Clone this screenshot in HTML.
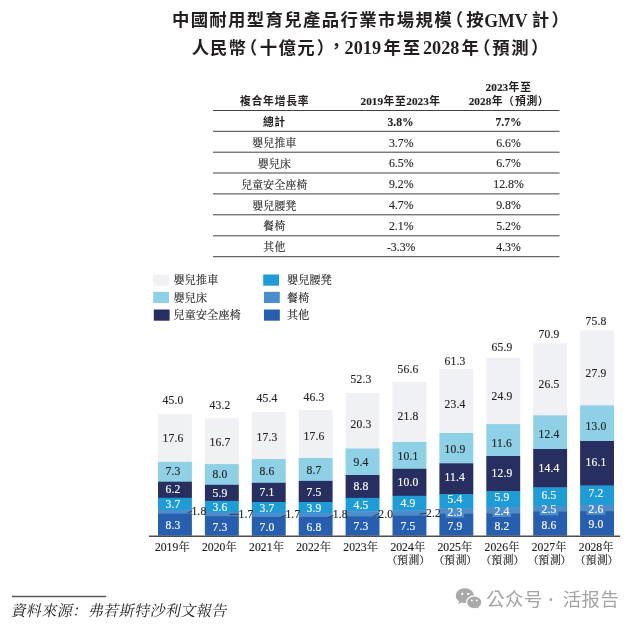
<!DOCTYPE html>
<html lang="zh-Hant"><head><meta charset="utf-8"><title>中國耐用型育兒產品行業市場規模</title>
<style>
html,body{margin:0;padding:0;background:#fff}
body{width:640px;height:626px;overflow:hidden;font-family:"Liberation Serif",serif}
svg{display:block;will-change:transform}
svg text{font-family:"Liberation Serif",serif;white-space:pre}
svg defs path{vector-effect:non-scaling-stroke}
svg text.ss{font-family:"Liberation Sans",sans-serif}
svg text.cs{font-family:"Liberation Sans","Noto Sans CJK TC",sans-serif;font-weight:bold}
svg text.cf{font-family:"Liberation Serif","Noto Serif CJK SC",serif}
svg text.cw{font-family:"Liberation Sans","Noto Sans CJK SC",sans-serif}
</style></head><body>
<svg width="640" height="626" viewBox="0 0 640 626">
<g fill="#231f20"><text class="cs" x="171.9" y="26.3" font-size="17.4" letter-spacing="1.35">中國耐用型育兒產品行業市場規模</text></g>
<g fill="#231f20"><text class="cs" x="445.77" y="26.3" font-size="17.4">（</text></g>
<g fill="#231f20"><text class="cs" x="466.37" y="26.3" font-size="17.4">按</text></g>
<g fill="#231f20"><text x="484.3" y="27" font-size="19.6" font-weight="bold" textLength="43.4" lengthAdjust="spacingAndGlyphs">GMV</text></g>
<g fill="#231f20"><text class="cs" x="531.63" y="26.3" font-size="17.4">計</text></g>
<g fill="#231f20"><text class="cs" x="551.43" y="26.3" font-size="17.4">）</text></g>
<g fill="#231f20"><text class="cs" x="191.84" y="53.8" font-size="17.4" letter-spacing="0.9">人民幣</text></g>
<g fill="#231f20"><text class="cs" x="239.87" y="53.8" font-size="17.4">（</text></g>
<g fill="#231f20"><text class="cs" x="259.63" y="53.8" font-size="17.4" letter-spacing="1.45">十億元</text></g>
<g fill="#231f20"><text class="cs" x="316.83" y="53.8" font-size="17.4">）</text></g>
<g fill="#231f20"><text class="cs" x="327.67" y="52.3" font-size="17.4">，</text></g>
<g fill="#231f20"><text x="344.6" y="53.8" font-size="18.2" font-weight="bold">2019</text></g>
<g fill="#231f20"><text class="cs" x="383.49" y="53.8" font-size="17.4" letter-spacing="1.9">年至</text></g>
<g fill="#231f20"><text x="423" y="53.8" font-size="18.2" font-weight="bold">2028</text></g>
<g fill="#231f20"><text class="cs" x="461.59" y="53.8" font-size="17.4">年</text></g>
<g fill="#231f20"><text class="cs" x="472.97" y="53.8" font-size="17.4">（</text></g>
<g fill="#231f20"><text class="cs" x="492.3" y="53.8" font-size="17.4" letter-spacing="1.6">預測</text></g>
<g fill="#231f20"><text class="cs" x="531.03" y="53.8" font-size="17.4">）</text></g>
<line x1="213" y1="110.5" x2="559.5" y2="110.5" stroke="#414042" stroke-width="1"/>
<line x1="213" y1="131.3" x2="559.5" y2="131.3" stroke="#414042" stroke-width="1"/>
<line x1="213" y1="152.2" x2="559.5" y2="152.2" stroke="#414042" stroke-width="1"/>
<line x1="213" y1="173" x2="559.5" y2="173" stroke="#414042" stroke-width="1"/>
<line x1="213" y1="193.9" x2="559.5" y2="193.9" stroke="#414042" stroke-width="1"/>
<line x1="213" y1="214.8" x2="559.5" y2="214.8" stroke="#414042" stroke-width="1"/>
<line x1="213" y1="235.8" x2="559.5" y2="235.8" stroke="#414042" stroke-width="1"/>
<line x1="213" y1="256.700" x2="559.5" y2="256.700" stroke="#414042" stroke-width="1"/>
<g fill="#231f20"><text class="cs" x="239.9" y="104.8" font-size="10.8" letter-spacing="0.8">複合年增長率</text></g>
<g fill="#231f20"><text x="360.5" y="105.4" font-size="11.3" font-weight="bold" stroke="#231f20" stroke-width="0.14">2019</text><text class="cs" x="383.5" y="105.4" font-size="10.8" letter-spacing="0.8">年至</text><text x="406.3" y="105.4" font-size="11.3" font-weight="bold" stroke="#231f20" stroke-width="0.14">2023</text><text class="cs" x="429.3" y="105.4" font-size="10.8">年</text></g>
<g fill="#231f20"><text x="485.6" y="90.7" font-size="11.3" font-weight="bold" stroke="#231f20" stroke-width="0.14">2023</text><text class="cs" x="508.6" y="90.7" font-size="10.8" letter-spacing="0.8">年至</text></g>
<g fill="#231f20"><text x="468.7" y="105" font-size="11.3" font-weight="bold" stroke="#231f20" stroke-width="0.14">2028</text><text class="cs" x="491.7" y="105" font-size="10.8">年</text><text class="cs" x="502.9" y="105" font-size="10.8">（</text><text class="cs" x="514.9" y="105" font-size="10.8" letter-spacing="0.8">預測</text><text class="cs" x="537.7" y="105" font-size="10.8">）</text></g>
<g fill="#231f20"><text class="cs" x="263.05" y="126.2" font-size="10.8" letter-spacing="0.3">總計</text></g>
<g fill="#231f20" stroke="#231f20" stroke-width="0.14"><text x="387.45" y="125.8" font-size="11.6" font-weight="bold">3.8%</text></g>
<g fill="#231f20" stroke="#231f20" stroke-width="0.14"><text x="495.45" y="125.8" font-size="11.6" font-weight="bold">7.7%</text></g>
<g fill="#231f20" stroke="#231f20" stroke-width="0.14"><text class="cf" x="252.25" y="146.9" font-size="10.8" letter-spacing="0.3">嬰兒推車</text></g>
<g fill="#231f20" stroke="#231f20" stroke-width="0.14"><text x="388.91" y="146.5" font-size="11.8">3.7%</text></g>
<g fill="#231f20" stroke="#231f20" stroke-width="0.14"><text x="496.21" y="146.5" font-size="11.8">6.6%</text></g>
<g fill="#231f20" stroke="#231f20" stroke-width="0.14"><text class="cf" x="257.8" y="167.8" font-size="10.8" letter-spacing="0.3">嬰兒床</text></g>
<g fill="#231f20" stroke="#231f20" stroke-width="0.14"><text x="388.91" y="167.4" font-size="11.8">6.5%</text></g>
<g fill="#231f20" stroke="#231f20" stroke-width="0.14"><text x="496.21" y="167.4" font-size="11.8">6.7%</text></g>
<g fill="#231f20" stroke="#231f20" stroke-width="0.14"><text class="cf" x="241.15" y="188.6" font-size="10.8" letter-spacing="0.3">兒童安全座椅</text></g>
<g fill="#231f20" stroke="#231f20" stroke-width="0.14"><text x="388.91" y="188.2" font-size="11.8">9.2%</text></g>
<g fill="#231f20" stroke="#231f20" stroke-width="0.14"><text x="493.26" y="188.2" font-size="11.8">12.8%</text></g>
<g fill="#231f20" stroke="#231f20" stroke-width="0.14"><text class="cf" x="252.25" y="209.5" font-size="10.8" letter-spacing="0.3">嬰兒腰凳</text></g>
<g fill="#231f20" stroke="#231f20" stroke-width="0.14"><text x="388.91" y="209.1" font-size="11.8">4.7%</text></g>
<g fill="#231f20" stroke="#231f20" stroke-width="0.14"><text x="496.21" y="209.1" font-size="11.8">9.8%</text></g>
<g fill="#231f20" stroke="#231f20" stroke-width="0.14"><text class="cf" x="263.35" y="230.4" font-size="10.8" letter-spacing="0.3">餐椅</text></g>
<g fill="#231f20" stroke="#231f20" stroke-width="0.14"><text x="388.91" y="230" font-size="11.8">2.1%</text></g>
<g fill="#231f20" stroke="#231f20" stroke-width="0.14"><text x="496.21" y="230" font-size="11.8">5.2%</text></g>
<g fill="#231f20" stroke="#231f20" stroke-width="0.14"><text class="cf" x="263.35" y="251.4" font-size="10.8" letter-spacing="0.3">其他</text></g>
<g fill="#231f20" stroke="#231f20" stroke-width="0.14"><text x="386.95" y="251" font-size="11.8">-3.3%</text></g>
<g fill="#231f20" stroke="#231f20" stroke-width="0.14"><text x="496.21" y="251" font-size="11.8">4.3%</text></g>
<rect x="153.2" y="274.5" width="15.8" height="11.2" fill="#f0f1f5"/>
<g fill="#231f20" stroke="#231f20" stroke-width="0.14"><text class="cf" x="173.62" y="284.4" font-size="11" letter-spacing="0.25">嬰兒推車</text></g>
<rect x="153.2" y="291.8" width="15.8" height="11.2" fill="#8ed0e6"/>
<g fill="#231f20" stroke="#231f20" stroke-width="0.14"><text class="cf" x="173.62" y="301.7" font-size="11" letter-spacing="0.25">嬰兒床</text></g>
<rect x="153.8" y="309.5" width="15.8" height="11.2" fill="#272f61"/>
<g fill="#231f20" stroke="#231f20" stroke-width="0.14"><text class="cf" x="173.62" y="319.4" font-size="11" letter-spacing="0.25">兒童安全座椅</text></g>
<rect x="263.2" y="274.5" width="15.8" height="11.2" fill="#1e9cd8"/>
<g fill="#231f20" stroke="#231f20" stroke-width="0.14"><text class="cf" x="287.12" y="284.4" font-size="11" letter-spacing="0.25">嬰兒腰凳</text></g>
<rect x="264" y="291.8" width="15.8" height="11.2" fill="#4c8ecb"/>
<g fill="#231f20" stroke="#231f20" stroke-width="0.14"><text class="cf" x="287.12" y="301.7" font-size="11" letter-spacing="0.25">餐椅</text></g>
<rect x="264" y="309.5" width="15.8" height="11.2" fill="#265eb0"/>
<g fill="#231f20" stroke="#231f20" stroke-width="0.14"><text class="cf" x="287.12" y="319.4" font-size="11" letter-spacing="0.25">其他</text></g>
<rect x="158" y="414.1" width="33.9" height="48.2" fill="#f0f1f5"/>
<rect x="158" y="461.9" width="33.9" height="20.2" fill="#8ed0e6"/>
<rect x="158" y="481.7" width="33.9" height="16.5" fill="#272f61"/>
<rect x="158" y="497.8" width="33.9" height="12.2" fill="#1e9cd8"/>
<rect x="158" y="509.6" width="33.9" height="4.2" fill="#4c8ecb"/>
<rect x="158" y="513.4" width="33.9" height="22.3" fill="#265eb0"/>
<rect x="204.9" y="418.4" width="33.9" height="46.1" fill="#f0f1f5"/>
<rect x="204.9" y="464.1" width="33.9" height="21.1" fill="#8ed0e6"/>
<rect x="204.9" y="484.8" width="33.9" height="16.5" fill="#272f61"/>
<rect x="204.9" y="500.9" width="33.9" height="11.5" fill="#1e9cd8"/>
<rect x="204.9" y="512" width="33.9" height="4.5" fill="#4c8ecb"/>
<rect x="204.9" y="516.1" width="33.9" height="19.6" fill="#265eb0"/>
<rect x="251.8" y="411.9" width="33.9" height="47.6" fill="#f0f1f5"/>
<rect x="251.8" y="459.1" width="33.9" height="24.1" fill="#8ed0e6"/>
<rect x="251.8" y="482.8" width="33.9" height="19.6" fill="#272f61"/>
<rect x="251.8" y="502" width="33.9" height="11.2" fill="#1e9cd8"/>
<rect x="251.8" y="512.8" width="33.9" height="4.5" fill="#4c8ecb"/>
<rect x="251.8" y="516.9" width="33.9" height="18.8" fill="#265eb0"/>
<rect x="298.7" y="410" width="33.9" height="48.4" fill="#f0f1f5"/>
<rect x="298.7" y="458" width="33.9" height="23.3" fill="#8ed0e6"/>
<rect x="298.7" y="480.9" width="33.9" height="21.5" fill="#272f61"/>
<rect x="298.7" y="502" width="33.9" height="11.2" fill="#1e9cd8"/>
<rect x="298.7" y="512.8" width="33.9" height="4.5" fill="#4c8ecb"/>
<rect x="298.7" y="516.9" width="33.9" height="18.8" fill="#265eb0"/>
<rect x="345.6" y="393" width="33.9" height="55.9" fill="#f0f1f5"/>
<rect x="345.6" y="448.5" width="33.9" height="26.9" fill="#8ed0e6"/>
<rect x="345.6" y="475" width="33.9" height="23.3" fill="#272f61"/>
<rect x="345.6" y="497.9" width="33.9" height="13.8" fill="#1e9cd8"/>
<rect x="345.6" y="511.3" width="33.9" height="5.3" fill="#4c8ecb"/>
<rect x="345.6" y="516.2" width="33.9" height="19.5" fill="#265eb0"/>
<rect x="392.5" y="382" width="33.9" height="60.4" fill="#f0f1f5"/>
<rect x="392.5" y="442" width="33.9" height="27.2" fill="#8ed0e6"/>
<rect x="392.5" y="468.8" width="33.9" height="27.4" fill="#272f61"/>
<rect x="392.5" y="495.8" width="33.9" height="15" fill="#1e9cd8"/>
<rect x="392.5" y="510.4" width="33.9" height="5.4" fill="#4c8ecb"/>
<rect x="392.5" y="515.4" width="33.9" height="20.3" fill="#265eb0"/>
<rect x="439.4" y="369.1" width="33.9" height="64.3" fill="#f0f1f5"/>
<rect x="439.4" y="433" width="33.9" height="30.7" fill="#8ed0e6"/>
<rect x="439.4" y="463.3" width="33.9" height="31.1" fill="#272f61"/>
<rect x="439.4" y="494" width="33.9" height="14.6" fill="#1e9cd8"/>
<rect x="439.4" y="508.2" width="33.9" height="5.9" fill="#4c8ecb"/>
<rect x="439.4" y="513.7" width="33.9" height="22" fill="#265eb0"/>
<rect x="486.3" y="357.7" width="33.9" height="66.8" fill="#f0f1f5"/>
<rect x="486.3" y="424.1" width="33.9" height="32.3" fill="#8ed0e6"/>
<rect x="486.3" y="456" width="33.9" height="35.5" fill="#272f61"/>
<rect x="486.3" y="491.1" width="33.9" height="16.4" fill="#1e9cd8"/>
<rect x="486.3" y="507.1" width="33.9" height="6.6" fill="#4c8ecb"/>
<rect x="486.3" y="513.3" width="33.9" height="22.4" fill="#265eb0"/>
<rect x="533.2" y="343.4" width="33.9" height="72.3" fill="#f0f1f5"/>
<rect x="533.2" y="415.3" width="33.9" height="34.1" fill="#8ed0e6"/>
<rect x="533.2" y="449" width="33.9" height="38.8" fill="#272f61"/>
<rect x="533.2" y="487.4" width="33.9" height="19" fill="#1e9cd8"/>
<rect x="533.2" y="506" width="33.9" height="6" fill="#4c8ecb"/>
<rect x="533.2" y="511.6" width="33.9" height="24.1" fill="#265eb0"/>
<rect x="580.1" y="330.4" width="33.9" height="75.4" fill="#f0f1f5"/>
<rect x="580.1" y="405.4" width="33.9" height="36" fill="#8ed0e6"/>
<rect x="580.1" y="441" width="33.9" height="44.9" fill="#272f61"/>
<rect x="580.1" y="485.5" width="33.9" height="19.5" fill="#1e9cd8"/>
<rect x="580.1" y="504.6" width="33.9" height="6.9" fill="#4c8ecb"/>
<rect x="580.1" y="511.1" width="33.9" height="24.6" fill="#265eb0"/>
<g fill="#231f20" stroke="#231f20" stroke-width="0.15"><text x="162.53" y="441.8" font-size="11.6" letter-spacing="0.15">17.6</text></g>
<g fill="#231f20" stroke="#231f20" stroke-width="0.15"><text x="165.5" y="475.4" font-size="11.6" letter-spacing="0.15">7.3</text></g>
<g fill="#ffffff" stroke="#ffffff" stroke-width="0.15"><text x="165.5" y="493" font-size="11.6" letter-spacing="0.15">6.2</text></g>
<g fill="#ffffff" stroke="#ffffff" stroke-width="0.15"><text x="165.5" y="508.2" font-size="11.6" letter-spacing="0.15">3.7</text></g>
<line x1="187.7" y1="512.9" x2="192.3" y2="511" stroke="#231f20" stroke-width="0.75"/>
<g fill="#231f20" stroke="#231f20" stroke-width="0.15"><text x="191.4" y="515.2" font-size="11.6" letter-spacing="0.15">1.8</text></g>
<g fill="#ffffff" stroke="#ffffff" stroke-width="0.15"><text x="165.5" y="529" font-size="11.6" letter-spacing="0.15">8.3</text></g>
<g fill="#231f20" stroke="#231f20" stroke-width="0.15"><text x="162.53" y="403.5" font-size="11.6" letter-spacing="0.15">45.0</text></g>
<g fill="#231f20" stroke="#231f20" stroke-width="0.15"><text x="154.9" y="550.6" font-size="11.7">2019</text><text class="cf" x="178.7" y="550.6" font-size="11">年</text></g>
<g fill="#231f20" stroke="#231f20" stroke-width="0.15"><text x="209.53" y="445.7" font-size="11.6" letter-spacing="0.15">16.7</text></g>
<g fill="#231f20" stroke="#231f20" stroke-width="0.15"><text x="212.5" y="478.4" font-size="11.6" letter-spacing="0.15">8.0</text></g>
<g fill="#ffffff" stroke="#ffffff" stroke-width="0.15"><text x="212.5" y="496.8" font-size="11.6" letter-spacing="0.15">5.9</text></g>
<g fill="#ffffff" stroke="#ffffff" stroke-width="0.15"><text x="212.5" y="510.8" font-size="11.6" letter-spacing="0.15">3.6</text></g>
<line x1="229.8" y1="514.4" x2="239.3" y2="514.2" stroke="#231f20" stroke-width="0.75"/>
<g fill="#231f20" stroke="#231f20" stroke-width="0.15"><text x="238.5" y="518.1" font-size="11.6" letter-spacing="0.15">1.7</text></g>
<g fill="#ffffff" stroke="#ffffff" stroke-width="0.15"><text x="212.5" y="530.5" font-size="11.6" letter-spacing="0.15">7.3</text></g>
<g fill="#231f20" stroke="#231f20" stroke-width="0.15"><text x="209.53" y="408.65" font-size="11.6" letter-spacing="0.15">43.2</text></g>
<g fill="#231f20" stroke="#231f20" stroke-width="0.15"><text x="202" y="550.6" font-size="11.7">2020</text><text class="cf" x="225.8" y="550.6" font-size="11">年</text></g>
<g fill="#231f20" stroke="#231f20" stroke-width="0.15"><text x="256.52" y="440.9" font-size="11.6" letter-spacing="0.15">17.3</text></g>
<g fill="#231f20" stroke="#231f20" stroke-width="0.15"><text x="259.5" y="474.5" font-size="11.6" letter-spacing="0.15">8.6</text></g>
<g fill="#ffffff" stroke="#ffffff" stroke-width="0.15"><text x="259.5" y="495.7" font-size="11.6" letter-spacing="0.15">7.1</text></g>
<g fill="#ffffff" stroke="#ffffff" stroke-width="0.15"><text x="259.5" y="512.1" font-size="11.6" letter-spacing="0.15">3.7</text></g>
<line x1="281.2" y1="516.9" x2="286.2" y2="515.3" stroke="#231f20" stroke-width="0.75"/>
<g fill="#231f20" stroke="#231f20" stroke-width="0.15"><text x="285.4" y="518.3" font-size="11.6" letter-spacing="0.15">1.7</text></g>
<g fill="#ffffff" stroke="#ffffff" stroke-width="0.15"><text x="259.5" y="530.8" font-size="11.6" letter-spacing="0.15">7.0</text></g>
<g fill="#231f20" stroke="#231f20" stroke-width="0.15"><text x="256.52" y="402.3" font-size="11.6" letter-spacing="0.15">45.4</text></g>
<g fill="#231f20" stroke="#231f20" stroke-width="0.15"><text x="249.1" y="550.6" font-size="11.7">2021</text><text class="cf" x="272.9" y="550.6" font-size="11">年</text></g>
<g fill="#231f20" stroke="#231f20" stroke-width="0.15"><text x="303.52" y="439.8" font-size="11.6" letter-spacing="0.15">17.6</text></g>
<g fill="#231f20" stroke="#231f20" stroke-width="0.15"><text x="306.5" y="474.1" font-size="11.6" letter-spacing="0.15">8.7</text></g>
<g fill="#ffffff" stroke="#ffffff" stroke-width="0.15"><text x="306.5" y="495.7" font-size="11.6" letter-spacing="0.15">7.5</text></g>
<g fill="#ffffff" stroke="#ffffff" stroke-width="0.15"><text x="306.5" y="512.1" font-size="11.6" letter-spacing="0.15">3.9</text></g>
<line x1="328.6" y1="517.2" x2="333.5" y2="515.6" stroke="#231f20" stroke-width="0.75"/>
<g fill="#231f20" stroke="#231f20" stroke-width="0.15"><text x="332.7" y="518.3" font-size="11.6" letter-spacing="0.15">1.8</text></g>
<g fill="#ffffff" stroke="#ffffff" stroke-width="0.15"><text x="306.5" y="530.8" font-size="11.6" letter-spacing="0.15">6.8</text></g>
<g fill="#231f20" stroke="#231f20" stroke-width="0.15"><text x="303.52" y="400.7" font-size="11.6" letter-spacing="0.15">46.3</text></g>
<g fill="#231f20" stroke="#231f20" stroke-width="0.15"><text x="296.2" y="550.6" font-size="11.7">2022</text><text class="cf" x="320" y="550.6" font-size="11">年</text></g>
<g fill="#231f20" stroke="#231f20" stroke-width="0.15"><text x="350.52" y="427.9" font-size="11.6" letter-spacing="0.15">20.3</text></g>
<g fill="#231f20" stroke="#231f20" stroke-width="0.15"><text x="353.5" y="466.2" font-size="11.6" letter-spacing="0.15">9.4</text></g>
<g fill="#ffffff" stroke="#ffffff" stroke-width="0.15"><text x="353.5" y="489.9" font-size="11.6" letter-spacing="0.15">8.8</text></g>
<g fill="#ffffff" stroke="#ffffff" stroke-width="0.15"><text x="353.5" y="508.7" font-size="11.6" letter-spacing="0.15">4.5</text></g>
<line x1="373.6" y1="516.2" x2="379" y2="513.6" stroke="#231f20" stroke-width="0.75"/>
<g fill="#231f20" stroke="#231f20" stroke-width="0.15"><text x="378.3" y="518.1" font-size="11.6" letter-spacing="0.15">2.0</text></g>
<g fill="#ffffff" stroke="#ffffff" stroke-width="0.15"><text x="353.5" y="530.1" font-size="11.6" letter-spacing="0.15">7.3</text></g>
<g fill="#231f20" stroke="#231f20" stroke-width="0.15"><text x="350.52" y="383.3" font-size="11.6" letter-spacing="0.15">52.3</text></g>
<g fill="#231f20" stroke="#231f20" stroke-width="0.15"><text x="343.3" y="550.6" font-size="11.7">2023</text><text class="cf" x="367.1" y="550.6" font-size="11">年</text></g>
<g fill="#231f20" stroke="#231f20" stroke-width="0.15"><text x="397.52" y="419.7" font-size="11.6" letter-spacing="0.15">21.8</text></g>
<g fill="#231f20" stroke="#231f20" stroke-width="0.15"><text x="397.52" y="459.5" font-size="11.6" letter-spacing="0.15">10.1</text></g>
<g fill="#ffffff" stroke="#ffffff" stroke-width="0.15"><text x="397.52" y="485.9" font-size="11.6" letter-spacing="0.15">10.0</text></g>
<g fill="#ffffff" stroke="#ffffff" stroke-width="0.15"><text x="400.5" y="507.15" font-size="11.6" letter-spacing="0.15">4.9</text></g>
<line x1="419.7" y1="514.2" x2="426.8" y2="513.1" stroke="#231f20" stroke-width="0.75"/>
<g fill="#231f20" stroke="#231f20" stroke-width="0.15"><text x="426.1" y="517.1" font-size="11.6" letter-spacing="0.15">2.2</text></g>
<g fill="#ffffff" stroke="#ffffff" stroke-width="0.15"><text x="400.5" y="530.1" font-size="11.6" letter-spacing="0.15">7.5</text></g>
<g fill="#231f20" stroke="#231f20" stroke-width="0.15"><text x="397.52" y="373.3" font-size="11.6" letter-spacing="0.15">56.6</text></g>
<g fill="#231f20" stroke="#231f20" stroke-width="0.15"><text x="390.4" y="550.6" font-size="11.7">2024</text><text class="cf" x="414.2" y="550.6" font-size="11">年</text></g>
<g fill="#231f20" stroke="#231f20" stroke-width="0.15"><text class="cf" x="386.4" y="564.3" font-size="10.8">（</text><text class="cf" x="397" y="564.3" font-size="10.8" letter-spacing="0.8">預測</text><text class="cf" x="419.2" y="564.3" font-size="10.8">）</text></g>
<g fill="#231f20" stroke="#231f20" stroke-width="0.15"><text x="444.52" y="408.4" font-size="11.6" letter-spacing="0.15">23.4</text></g>
<g fill="#231f20" stroke="#231f20" stroke-width="0.15"><text x="444.52" y="452.7" font-size="11.6" letter-spacing="0.15">10.9</text></g>
<g fill="#ffffff" stroke="#ffffff" stroke-width="0.15"><text x="444.52" y="481.4" font-size="11.6" letter-spacing="0.15">11.4</text></g>
<g fill="#ffffff" stroke="#ffffff" stroke-width="0.15"><text x="447.5" y="503" font-size="11.6" letter-spacing="0.15">5.4</text></g>
<rect x="445.57" y="508.2" width="18.6" height="9.4" fill="#4c8ecb"/>
<g fill="#ffffff" stroke="#ffffff" stroke-width="0.15"><text x="447.5" y="515.6" font-size="11.6" letter-spacing="0.15">2.3</text></g>
<g fill="#ffffff" stroke="#ffffff" stroke-width="0.15"><text x="447.5" y="529.7" font-size="11.6" letter-spacing="0.15">7.9</text></g>
<g fill="#231f20" stroke="#231f20" stroke-width="0.15"><text x="444.52" y="364.8" font-size="11.6" letter-spacing="0.15">61.3</text></g>
<g fill="#231f20" stroke="#231f20" stroke-width="0.15"><text x="437.5" y="550.6" font-size="11.7">2025</text><text class="cf" x="461.3" y="550.6" font-size="11">年</text></g>
<g fill="#231f20" stroke="#231f20" stroke-width="0.15"><text class="cf" x="433.5" y="564.3" font-size="10.8">（</text><text class="cf" x="444.1" y="564.3" font-size="10.8" letter-spacing="0.8">預測</text><text class="cf" x="466.3" y="564.3" font-size="10.8">）</text></g>
<g fill="#231f20" stroke="#231f20" stroke-width="0.15"><text x="491.52" y="399.7" font-size="11.6" letter-spacing="0.15">24.9</text></g>
<g fill="#231f20" stroke="#231f20" stroke-width="0.15"><text x="491.52" y="446.9" font-size="11.6" letter-spacing="0.15">11.6</text></g>
<g fill="#ffffff" stroke="#ffffff" stroke-width="0.15"><text x="491.52" y="476.9" font-size="11.6" letter-spacing="0.15">12.9</text></g>
<g fill="#ffffff" stroke="#ffffff" stroke-width="0.15"><text x="494.5" y="501.4" font-size="11.6" letter-spacing="0.15">5.9</text></g>
<rect x="492.57" y="507.1" width="18.6" height="9.9" fill="#4c8ecb"/>
<g fill="#ffffff" stroke="#ffffff" stroke-width="0.15"><text x="494.5" y="515" font-size="11.6" letter-spacing="0.15">2.4</text></g>
<g fill="#ffffff" stroke="#ffffff" stroke-width="0.15"><text x="494.5" y="529.7" font-size="11.6" letter-spacing="0.15">8.2</text></g>
<g fill="#231f20" stroke="#231f20" stroke-width="0.15"><text x="491.52" y="351.3" font-size="11.6" letter-spacing="0.15">65.9</text></g>
<g fill="#231f20" stroke="#231f20" stroke-width="0.15"><text x="484.6" y="550.6" font-size="11.7">2026</text><text class="cf" x="508.4" y="550.6" font-size="11">年</text></g>
<g fill="#231f20" stroke="#231f20" stroke-width="0.15"><text class="cf" x="480.6" y="564.3" font-size="10.8">（</text><text class="cf" x="491.2" y="564.3" font-size="10.8" letter-spacing="0.8">預測</text><text class="cf" x="513.4" y="564.3" font-size="10.8">）</text></g>
<g fill="#231f20" stroke="#231f20" stroke-width="0.15"><text x="538.52" y="387.6" font-size="11.6" letter-spacing="0.15">26.5</text></g>
<g fill="#231f20" stroke="#231f20" stroke-width="0.15"><text x="538.52" y="437.9" font-size="11.6" letter-spacing="0.15">12.4</text></g>
<g fill="#ffffff" stroke="#ffffff" stroke-width="0.15"><text x="538.52" y="471.6" font-size="11.6" letter-spacing="0.15">14.4</text></g>
<g fill="#ffffff" stroke="#ffffff" stroke-width="0.15"><text x="541.5" y="498.8" font-size="11.6" letter-spacing="0.15">6.5</text></g>
<rect x="539.58" y="506" width="18.6" height="9.4" fill="#4c8ecb"/>
<g fill="#ffffff" stroke="#ffffff" stroke-width="0.15"><text x="541.5" y="513.4" font-size="11.6" letter-spacing="0.15">2.5</text></g>
<g fill="#ffffff" stroke="#ffffff" stroke-width="0.15"><text x="541.5" y="528.7" font-size="11.6" letter-spacing="0.15">8.6</text></g>
<g fill="#231f20" stroke="#231f20" stroke-width="0.15"><text x="538.52" y="338" font-size="11.6" letter-spacing="0.15">70.9</text></g>
<g fill="#231f20" stroke="#231f20" stroke-width="0.15"><text x="531.7" y="550.6" font-size="11.7">2027</text><text class="cf" x="555.5" y="550.6" font-size="11">年</text></g>
<g fill="#231f20" stroke="#231f20" stroke-width="0.15"><text class="cf" x="527.7" y="564.3" font-size="10.8">（</text><text class="cf" x="538.3" y="564.3" font-size="10.8" letter-spacing="0.8">預測</text><text class="cf" x="560.5" y="564.3" font-size="10.8">）</text></g>
<g fill="#231f20" stroke="#231f20" stroke-width="0.15"><text x="585.52" y="376.9" font-size="11.6" letter-spacing="0.15">27.9</text></g>
<g fill="#231f20" stroke="#231f20" stroke-width="0.15"><text x="585.52" y="429.6" font-size="11.6" letter-spacing="0.15">13.0</text></g>
<g fill="#ffffff" stroke="#ffffff" stroke-width="0.15"><text x="585.52" y="465.9" font-size="11.6" letter-spacing="0.15">16.1</text></g>
<g fill="#ffffff" stroke="#ffffff" stroke-width="0.15"><text x="588.5" y="496.9" font-size="11.6" letter-spacing="0.15">7.2</text></g>
<rect x="586.58" y="504.6" width="18.6" height="10.2" fill="#4c8ecb"/>
<g fill="#ffffff" stroke="#ffffff" stroke-width="0.15"><text x="588.5" y="512.8" font-size="11.6" letter-spacing="0.15">2.6</text></g>
<g fill="#ffffff" stroke="#ffffff" stroke-width="0.15"><text x="588.5" y="528.1" font-size="11.6" letter-spacing="0.15">9.0</text></g>
<g fill="#231f20" stroke="#231f20" stroke-width="0.15"><text x="585.52" y="325.3" font-size="11.6" letter-spacing="0.15">75.8</text></g>
<g fill="#231f20" stroke="#231f20" stroke-width="0.15"><text x="578.8" y="550.6" font-size="11.7">2028</text><text class="cf" x="602.6" y="550.6" font-size="11">年</text></g>
<g fill="#231f20" stroke="#231f20" stroke-width="0.15"><text class="cf" x="574.8" y="564.3" font-size="10.8">（</text><text class="cf" x="585.4" y="564.3" font-size="10.8" letter-spacing="0.8">預測</text><text class="cf" x="607.6" y="564.3" font-size="10.8">）</text></g>
<line x1="149" y1="536.3" x2="620" y2="536.3" stroke="#4d4d4f" stroke-width="1.5"/>
<line x1="11.9" y1="596.45" x2="106.2" y2="596.45" stroke="#58595b" stroke-width="1.6"/>
<g fill="#231f20"><text class="cf" transform="translate(10.43 615.7) skewX(-12)" x="0" y="0" font-size="15.2" letter-spacing="0.25">資料來源</text><text class="cf" transform="translate(72.1 615.7) skewX(-12)" x="0" y="0" font-size="15.2">：</text><text class="cf" transform="translate(87.67 615.7) skewX(-12)" x="0" y="0" font-size="15.2" letter-spacing="0.25">弗若斯特沙利文報告</text></g>
<g aria-label="WeChat" transform="translate(468.8 598.9) scale(1.09) translate(-468.8 -598.7)"><path d="M465.2 588.9c-4.6 0-8.3 3-8.3 6.800 0 2.100 1.200 4 3 5.200l-.8 2.700 3-1.500c1 .3 2 .4 3.100.4 4.600 0 8.300-3 8.300-6.800s-3.700-6.800-8.300-6.800z" fill="#a9a9a9"/><path d="M473.800 596c-3.900 0-7 2.600-7 5.900s3.100 5.900 7 5.900c.9 0 1.700-.1 2.500-.4l2.500 1.300-.7-2.300c1.700-1.100 2.700-2.700 2.700-4.500 0-3.300-3.100-5.900-7-5.900z" fill="#a9a9a9" stroke="#fff" stroke-width="1.100"/><circle cx="462.800" cy="594.100" r="1.050" fill="#fff"/><circle cx="468.300" cy="594.100" r="1.050" fill="#fff"/><circle cx="471.600" cy="600.200" r=".85" fill="#fff"/><circle cx="476.100" cy="600.200" r=".85" fill="#fff"/></g>
<g fill="#a3a3a3"><text class="cw" x="486.15" y="606.4" font-size="18.4" letter-spacing="0.5">公众号</text></g>
<circle cx="550.9" cy="599.7" r="1.35" fill="#a3a3a3"/>
<g fill="#a3a3a3"><text class="cw" x="562.65" y="606.4" font-size="18.4" letter-spacing="0.5">活报告</text></g>
</svg>
</body></html>
